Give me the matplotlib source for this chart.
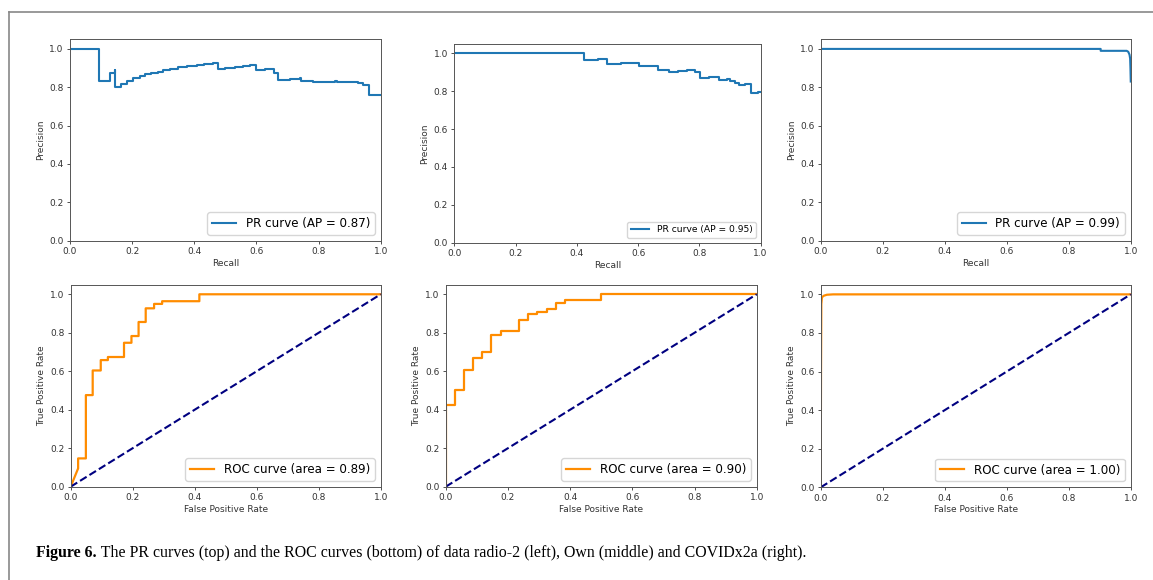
import numpy as np
import matplotlib
matplotlib.use('Agg')
import matplotlib.pyplot as plt
from matplotlib.lines import Line2D

# PR curves (recall, precision) - step breakpoints
recall_radio = [0.0, 0.093, 0.128, 0.145, 0.146, 0.163, 0.182, 0.204, 0.225, 0.24, 0.262, 0.283,
                0.3, 0.322, 0.348, 0.375, 0.408, 0.43, 0.46, 0.475, 0.5, 0.53, 0.557, 0.58,
                0.6, 0.628, 0.655, 0.67, 0.708, 0.74, 0.745, 0.783, 0.815, 0.853, 0.858,
                0.9, 0.928, 0.944, 0.962, 1.0]
prec_radio = [1.0, 0.835, 0.875, 0.89, 0.80, 0.815, 0.835, 0.85, 0.86, 0.87, 0.875, 0.88,
              0.89, 0.895, 0.905, 0.91, 0.915, 0.92, 0.925, 0.895, 0.9, 0.905, 0.91, 0.915,
              0.89, 0.895, 0.875, 0.84, 0.845, 0.85, 0.835, 0.825, 0.83, 0.835, 0.825,
              0.83, 0.82, 0.81, 0.76, 0.76]

recall_own = [0.0, 0.423, 0.47, 0.5, 0.545, 0.575, 0.604, 0.64, 0.665, 0.7, 0.73, 0.76,
              0.785, 0.802, 0.83, 0.86, 0.865, 0.89, 0.9, 0.915, 0.93, 0.95, 0.97, 0.99, 1.0]
prec_own = [1.0, 0.965, 0.97, 0.945, 0.948, 0.952, 0.931, 0.935, 0.915, 0.903, 0.906, 0.91,
            0.9, 0.871, 0.873, 0.875, 0.862, 0.865, 0.853, 0.843, 0.835, 0.838, 0.79, 0.795, 0.795]

recall_covid = [0.0, 0.903, 0.903, 0.987, 0.992, 0.996, 0.998, 0.999, 1.0]
prec_covid = [1.0, 1.0, 0.99, 0.99, 0.985, 0.97, 0.95, 0.90, 0.83]

# ROC curves (fpr, tpr)
fpr_radio = [0.0, 0.024, 0.024, 0.049, 0.049, 0.071, 0.071, 0.097, 0.097, 0.12, 0.12, 0.172,
             0.172, 0.196, 0.196, 0.219, 0.219, 0.242, 0.242, 0.269, 0.269, 0.295, 0.295,
             0.415, 0.415, 1.0]
tpr_radio = [0.0, 0.095, 0.147, 0.147, 0.476, 0.476, 0.604, 0.604, 0.658, 0.658, 0.674, 0.674,
             0.748, 0.748, 0.783, 0.783, 0.856, 0.856, 0.927, 0.927, 0.95, 0.95, 0.964,
             0.964, 1.0, 1.0]

fpr_own = [0.0, 0.0, 0.029, 0.029, 0.059, 0.059, 0.088, 0.088, 0.117, 0.117, 0.147, 0.147,
           0.177, 0.177, 0.235, 0.235, 0.265, 0.265, 0.295, 0.295, 0.325, 0.325, 0.354,
           0.354, 0.383, 0.383, 0.5, 0.5, 1.0]
tpr_own = [0.0, 0.425, 0.425, 0.5, 0.5, 0.608, 0.608, 0.667, 0.667, 0.7, 0.7, 0.79,
           0.79, 0.807, 0.807, 0.865, 0.865, 0.896, 0.896, 0.91, 0.91, 0.925, 0.925,
           0.955, 0.955, 0.97, 0.97, 1.0, 1.0]

fpr_covid = [0.0, 0.001, 0.002, 0.004, 0.01, 0.02, 0.04, 1.0]
tpr_covid = [0.0, 0.6, 0.95, 0.985, 0.993, 0.998, 1.0, 1.0]

ap_scores = [0.87, 0.95, 0.99]
roc_areas = [0.89, 0.90, 1.00]

caption_bold = 'Figure 6.'
caption_rest = (' The PR curves (top) and the ROC curves (bottom) of data radio-2 (left), '
                'Own (middle) and COVIDx2a (right).')

fig = plt.figure(figsize=(11.53, 5.8), dpi=100)

pr_pos = [[0.0607, 0.585, 0.2695, 0.3472],
          [0.394, 0.5816, 0.2657, 0.3426],
          [0.7118, 0.585, 0.2689, 0.3472]]
roc_pos = [[0.0613, 0.1609, 0.2689, 0.3483],
           [0.3866, 0.1609, 0.2697, 0.3483],
           [0.7118, 0.1598, 0.2689, 0.3493]]
legend_size = [8.6, 6.6, 8.6]

pr_data = [(recall_radio, prec_radio, True),
           (recall_own, prec_own, True),
           (recall_covid, prec_covid, False)]
roc_data = [(fpr_radio, tpr_radio), (fpr_own, tpr_own), (fpr_covid, tpr_covid)]


def style_axes(ax):
    ax.set_xlim(0.0, 1.0)
    ax.set_ylim(0.0, 1.05)
    ax.tick_params(labelsize=6.5, length=2.5, width=0.6, pad=2, colors='#333333')
    for s in ax.spines.values():
        s.set_linewidth(0.7)
        s.set_color('#555555')


for i in range(3):
    ax = fig.add_axes(pr_pos[i])
    x, y, stepped = pr_data[i]
    if stepped:
        ax.step(x, y, where='post', color='#1f77b4', lw=1.5,
                label='PR curve (AP = %0.2f)' % ap_scores[i])
    else:
        ax.plot(x, y, color='#1f77b4', lw=1.5,
                label='PR curve (AP = %0.2f)' % ap_scores[i])
    style_axes(ax)
    ax.set_xlabel('Recall', fontsize=6.5, labelpad=2, color='#333333')
    ax.set_ylabel('Precision', fontsize=6.5, labelpad=3, color='#333333')
    ax.legend(loc='lower right', fontsize=legend_size[i])

for i in range(3):
    ax = fig.add_axes(roc_pos[i])
    x, y = roc_data[i]
    ax.plot(x, y, color='darkorange', lw=1.6,
            label='ROC curve (area = %0.2f)' % roc_areas[i])
    ax.plot([0, 1], [0, 1], color='navy', lw=1.5, linestyle='--')
    style_axes(ax)
    ax.set_xlabel('False Positive Rate', fontsize=6.5, labelpad=2, color='#333333')
    ax.set_ylabel('True Positive Rate', fontsize=6.5, labelpad=3, color='#333333')
    ax.legend(loc='lower right', fontsize=8.6)

# page frame
fig.add_artist(Line2D([9 / 1153, 1.0], [1 - 12 / 580, 1 - 12 / 580],
                      transform=fig.transFigure, color='#888888', lw=1.2))
fig.add_artist(Line2D([9 / 1153, 9 / 1153], [0.0, 1 - 12 / 580],
                      transform=fig.transFigure, color='#888888', lw=1.2))

t = fig.text(36 / 1153, 1 - 553 / 580, caption_bold, fontsize=11.4, fontweight='bold',
             family='Liberation Serif', va='center')
fig.canvas.draw()
bb = t.get_window_extent()
fig.text(bb.x1 / fig.bbox.width, 1 - 553 / 580, caption_rest, fontsize=11.4,
         family='Liberation Serif', va='center')

fig.savefig('out.png', dpi=100)
